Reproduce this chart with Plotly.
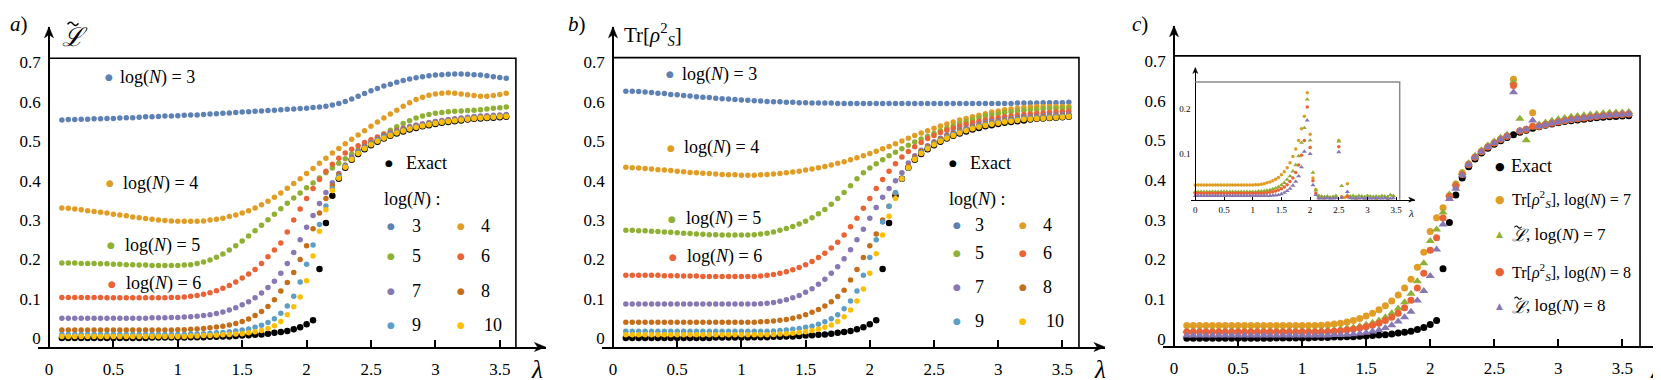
import plotly.graph_objects as go

# lambda grid of the main panels and of the inset
lam = [0.1, 0.15, 0.2, 0.25, 0.3, 0.35, 0.4, 0.45, 0.5, 0.55,
       0.6, 0.65, 0.7, 0.75, 0.8, 0.85, 0.9, 0.95, 1.0, 1.05,
       1.1, 1.15, 1.2, 1.25, 1.3, 1.35, 1.4, 1.45, 1.5, 1.55,
       1.6, 1.65, 1.7, 1.75, 1.8, 1.85, 1.9, 1.95, 2.0, 2.05,
       2.1, 2.15, 2.2, 2.25, 2.3, 2.35, 2.4, 2.45, 2.5, 2.55,
       2.6, 2.65, 2.7, 2.75, 2.8, 2.85, 2.9, 2.95, 3.0, 3.05,
       3.1, 3.15, 3.2, 3.25, 3.3, 3.35, 3.4, 3.45, 3.5, 3.55]
lam_inset = [0.0, 0.05, 0.1, 0.15, 0.2, 0.25, 0.3, 0.35, 0.4, 0.45,
             0.5, 0.55, 0.6, 0.65, 0.7, 0.75, 0.8, 0.85, 0.9, 0.95,
             1.0, 1.05, 1.1, 1.15, 1.2, 1.25, 1.3, 1.35, 1.4, 1.45,
             1.5, 1.55, 1.6, 1.65, 1.7, 1.75, 1.8, 1.85, 1.9, 1.95,
             2.0, 2.05, 2.1, 2.15, 2.2, 2.25, 2.3, 2.35, 2.4, 2.45,
             2.5, 2.55, 2.6, 2.65, 2.7, 2.75, 2.8, 2.85, 2.9, 2.95,
             3.0, 3.05, 3.1, 3.15, 3.2, 3.25, 3.3, 3.35, 3.4, 3.45]

exact = [.001, .001, .001, .001, .001, .001, .001, .001, .001, .001,
         .001, .001, .001, .001, .002, .002, .002, .002, .002, .002,
         .003, .003, .003, .004, .004, .005, .005, .006, .007, .008,
         .009, .010, .012, .014, .016, .019, .023, .028, .036, .046,
         .176, .293, .362, .405, .433, .453, .468, .480, .490, .499,
         .507, .514, .520, .525, .530, .534, .538, .541, .544, .547,
         .549, .551, .553, .555, .557, .558, .559, .560, .561, .562]

# ---- panel a : L tilde
a3 = [.554, .555, .555, .556, .556, .557, .557, .558, .558, .559,
      .560, .560, .561, .562, .562, .563, .564, .564, .565, .566,
      .567, .567, .568, .569, .570, .571, .572, .573, .574, .575,
      .576, .577, .578, .579, .580, .581, .582, .583, .584, .586,
      .587, .589, .592, .596, .601, .607, .614, .621, .628, .634,
      .640, .645, .650, .654, .658, .661, .664, .666, .668, .669,
      .670, .671, .671, .670, .669, .668, .666, .664, .662, .660]
a4 = [.331, .330, .328, .326, .324, .322, .320, .318, .315, .313,
      .311, .308, .306, .304, .302, .300, .299, .298, .297, .297,
      .297, .297, .298, .300, .302, .305, .309, .313, .318, .324,
      .331, .339, .348, .358, .369, .381, .393, .405, .418, .431,
      .444, .457, .470, .482, .494, .505, .516, .527, .538, .549,
      .559, .569, .579, .589, .598, .606, .612, .617, .620, .622,
      .623, .622, .620, .618, .616, .614, .614, .616, .619, .622]
a5 = [.191, .191, .191, .190, .190, .190, .189, .189, .188, .188,
      .187, .187, .186, .186, .185, .185, .185, .185, .185, .186,
      .187, .190, .194, .199, .206, .214, .224, .235, .247, .260,
      .273, .287, .301, .315, .329, .343, .356, .369, .382, .394,
      .407, .420, .432, .444, .456, .467, .478, .489, .499, .509,
      .519, .528, .537, .545, .552, .559, .564, .568, .571, .573,
      .575, .576, .577, .578, .579, .580, .582, .584, .585, .587]
a6 = [.104, .104, .104, .104, .104, .104, .104, .103, .103, .103,
      .103, .103, .103, .103, .103, .103, .103, .104, .104, .105,
      .107, .109, .112, .116, .121, .127, .134, .143, .153, .163,
      .175, .190, .207, .224, .242, .270, .300, .328, .355, .380,
      .403, .424, .442, .457, .470, .480, .489, .497, .504, .511,
      .517, .523, .528, .533, .537, .541, .544, .547, .550, .552,
      .554, .556, .558, .560, .561, .562, .563, .564, .565, .566]
a7 = [.051, .051, .051, .051, .051, .051, .051, .051, .051, .051,
      .051, .051, .051, .051, .052, .052, .052, .053, .053, .054,
      .055, .056, .058, .060, .063, .067, .072, .078, .085, .093,
      .103, .115, .129, .145, .165, .190, .218, .250, .282, .312,
      .342, .370, .395, .418, .440, .460, .475, .487, .497, .506,
      .514, .521, .527, .532, .537, .541, .544, .547, .550, .553,
      .555, .557, .559, .561, .563, .564, .565, .566, .567, .568]
a8 = [.021, .021, .021, .021, .021, .021, .021, .021, .021, .021,
      .021, .021, .021, .021, .021, .021, .021, .021, .022, .022,
      .023, .024, .025, .027, .029, .031, .034, .038, .043, .049,
      .058, .068, .081, .098, .120, .142, .167, .200, .235, .278,
      .318, .355, .388, .415, .437, .457, .472, .484, .494, .503,
      .511, .518, .524, .529, .534, .538, .541, .544, .547, .550,
      .552, .554, .556, .558, .560, .561, .562, .563, .564, .565]
a9 = [.010, .010, .010, .010, .010, .010, .010, .010, .010, .010,
      .010, .010, .010, .010, .010, .010, .010, .010, .010, .010,
      .011, .011, .012, .013, .014, .015, .017, .019, .021, .024,
      .028, .033, .040, .050, .064, .082, .107, .143, .188, .237,
      .289, .336, .380, .410, .436, .456, .471, .483, .493, .502,
      .510, .517, .523, .528, .533, .537, .540, .543, .546, .549,
      .551, .553, .555, .557, .559, .560, .561, .562, .563, .564]
a10 = [.005, .005, .005, .005, .005, .005, .005, .005, .005, .005,
       .005, .005, .005, .005, .005, .005, .005, .005, .005, .005,
       .006, .006, .007, .007, .008, .009, .010, .011, .012, .014,
       .017, .020, .025, .032, .043, .060, .080, .105, .146, .209,
       .272, .326, .375, .406, .434, .454, .469, .481, .491, .500,
       .508, .515, .521, .526, .531, .535, .539, .542, .545, .548,
       .550, .552, .554, .556, .558, .559, .560, .561, .562, .563]

# ---- panel b : Tr[rho_S^2]
b3 = [.627, .627, .626, .625, .624, .622, .621, .619, .618, .616,
      .615, .613, .612, .611, .609, .608, .607, .606, .605, .604,
      .603, .602, .601, .600, .600, .599, .599, .598, .598, .597,
      .597, .597, .597, .596, .596, .596, .596, .596, .596, .596,
      .596, .596, .596, .596, .596, .596, .596, .596, .596, .596,
      .596, .596, .596, .596, .596, .596, .596, .596, .596, .596,
      .596, .597, .597, .597, .597, .598, .598, .598, .598, .599]
b4 = [.434, .433, .432, .431, .430, .428, .427, .426, .424, .423,
      .421, .420, .419, .418, .417, .416, .415, .415, .414, .414,
      .414, .415, .416, .417, .418, .420, .422, .424, .427, .430,
      .433, .436, .440, .444, .448, .453, .458, .463, .469, .475,
      .481, .487, .494, .501, .508, .515, .521, .527, .533, .539,
      .544, .549, .554, .558, .562, .566, .570, .574, .577, .580,
      .582, .584, .586, .587, .588, .588, .588, .588, .588, .588]
b5 = [.274, .274, .273, .273, .272, .271, .270, .269, .268, .267,
      .266, .265, .264, .263, .263, .262, .262, .262, .262, .262,
      .263, .265, .267, .270, .274, .279, .284, .290, .297, .306,
      .316, .327, .340, .355, .370, .387, .405, .420, .432, .443,
      .453, .463, .472, .481, .490, .498, .506, .513, .520, .527,
      .533, .539, .545, .550, .555, .560, .564, .567, .570, .573,
      .575, .577, .579, .580, .581, .582, .583, .583, .584, .584]
b6 = [.160, .160, .160, .160, .160, .160, .159, .159, .159, .158,
      .158, .158, .157, .157, .157, .157, .157, .157, .157, .157,
      .157, .158, .160, .162, .165, .169, .174, .180, .187, .195,
      .205, .216, .229, .244, .262, .283, .305, .330, .355, .380,
      .403, .424, .443, .460, .474, .486, .497, .507, .515, .522,
      .528, .533, .538, .543, .547, .551, .554, .557, .560, .562,
      .564, .566, .568, .569, .571, .572, .573, .574, .575, .576]
b7 = [.087, .087, .087, .087, .087, .087, .087, .087, .087, .087,
      .087, .087, .087, .087, .087, .087, .087, .087, .087, .087,
      .087, .088, .089, .091, .094, .098, .103, .109, .117, .126,
      .137, .150, .165, .182, .202, .225, .250, .277, .305, .332,
      .358, .380, .400, .420, .445, .463, .477, .489, .499, .508,
      .516, .523, .529, .534, .539, .543, .547, .550, .553, .556,
      .558, .560, .562, .563, .564, .565, .566, .567, .568, .569]
b8 = [.041, .041, .041, .041, .041, .041, .041, .041, .041, .041,
      .041, .041, .041, .041, .041, .041, .041, .041, .041, .041,
      .041, .042, .043, .044, .046, .048, .051, .055, .060, .066,
      .073, .082, .093, .106, .122, .148, .175, .205, .235, .265,
      .300, .335, .368, .405, .436, .459, .474, .486, .496, .505,
      .513, .520, .526, .531, .536, .540, .544, .547, .550, .553,
      .555, .557, .559, .560, .561, .562, .563, .564, .565, .566]
b9 = [.018, .018, .018, .018, .018, .018, .018, .018, .018, .018,
      .018, .018, .018, .018, .018, .018, .018, .018, .018, .018,
      .018, .018, .018, .019, .020, .021, .023, .025, .028, .031,
      .036, .042, .050, .060, .075, .095, .120, .160, .205, .250,
      .295, .335, .370, .405, .432, .455, .471, .483, .493, .502,
      .510, .517, .523, .529, .534, .538, .542, .545, .548, .551,
      .553, .555, .557, .558, .559, .560, .561, .562, .563, .564]
b10 = [.009, .009, .009, .009, .009, .009, .009, .009, .009, .009,
       .009, .009, .009, .009, .009, .009, .009, .009, .009, .009,
       .009, .009, .009, .010, .011, .012, .013, .015, .017, .020,
       .023, .028, .034, .043, .055, .072, .095, .125, .165, .215,
       .262, .310, .355, .405, .433, .454, .469, .481, .491, .500,
       .508, .515, .521, .527, .532, .536, .540, .543, .546, .549,
       .551, .553, .555, .556, .557, .558, .559, .560, .561, .562]

# ---- panel c : comparison at log(N) = 7, 8
c_tr7 = [.033, .033, .033, .033, .033, .033, .033, .033, .033, .033,
         .033, .033, .033, .033, .033, .033, .033, .033, .033, .033,
         .033, .034, .035, .037, .039, .042, .046, .051, .057, .064,
         .073, .083, .095, .110, .128, .150, .180, .218, .270, .305,
         .330, .360, .390, .418, .440, .458, .472, .484, .494, .503,
         .511, .654, .524, .528, .569, .536, .540, .544, .547, .550,
         .553, .555, .557, .559, .561, .563, .564, .565, .566, .567]
c_l7 = [.020, .020, .020, .020, .020, .020, .020, .020, .020, .020,
        .020, .020, .020, .020, .020, .020, .020, .020, .020, .020,
        .020, .021, .021, .022, .024, .026, .028, .031, .035, .040,
        .046, .054, .064, .076, .092, .113, .145, .190, .246, .275,
        .318, .363, .390, .418, .442, .461, .475, .487, .497, .506,
        .514, .646, .554, .500, .532, .540, .545, .549, .553, .556,
        .559, .561, .563, .565, .566, .568, .569, .570, .570, .571]
c_tr8 = [.017, .017, .017, .017, .017, .017, .017, .017, .017, .017,
         .017, .017, .017, .017, .017, .017, .017, .017, .017, .017,
         .017, .017, .018, .019, .020, .022, .024, .027, .030, .034,
         .039, .046, .054, .064, .078, .097, .128, .165, .223, .254,
         .304, .358, .385, .414, .438, .457, .471, .483, .493, .502,
         .510, .638, .523, .527, .535, .535, .539, .543, .546, .549,
         .552, .554, .556, .558, .560, .562, .563, .564, .565, .566]
c_l8 = [.008, .008, .008, .008, .008, .008, .008, .008, .008, .008,
        .008, .008, .008, .008, .008, .008, .008, .008, .008, .008,
        .008, .008, .008, .009, .009, .010, .011, .013, .015, .018,
        .022, .027, .034, .043, .054, .068, .096, .120, .158, .225,
        .288, .352, .378, .412, .438, .457, .471, .483, .493, .502,
        .510, .621, .524, .528, .550, .535, .539, .543, .546, .549,
        .552, .554, .556, .558, .560, .562, .563, .564, .565, .566]

# ---- inset of panel c : deviation from the exact value
i_tr7 = [.030, .030, .030, .030, .030, .030, .030, .030, .030, .030,
         .030, .030, .030, .030, .030, .030, .030, .030, .030, .030,
         .030, .031, .031, .032, .033, .035, .037, .040, .043, .047,
         .053, .060, .069, .080, .094, .111, .130, .156, .184, .237,
         .144, .046, .020, .006, .003, .001, .002, .001, .003, .002,
         .130, .004, .002, .033, .003, -.003, -.002, -.003, -.003, -.002,
         -.003, -.003, -.003, -.002, -.003, -.003, -.003, -.002, -.003, -.003]
i_l7 = [.015, .015, .015, .015, .015, .015, .015, .015, .015, .015,
        .015, .015, .015, .015, .015, .015, .015, .015, .015, .015,
        .015, .015, .016, .016, .017, .018, .019, .021, .023, .026,
        .030, .035, .042, .050, .061, .075, .095, .125, .158, .222,
        .130, .058, .018, .006, .005, .004, .005, .003, .004, .006,
        .128, .028, -.018, .007, .005, .006, .004, .006, .005, .004,
        .006, .005, .004, .005, .004, .006, .005, .004, .008, .006]
i_tr8 = [.012, .012, .012, .012, .012, .012, .012, .012, .012, .012,
         .012, .012, .012, .012, .012, .012, .012, .012, .012, .012,
         .012, .012, .012, .012, .012, .013, .014, .015, .017, .019,
         .022, .026, .031, .038, .046, .058, .075, .097, .130, .205,
         .114, .040, .012, .001, -.003, -.003, -.003, -.003, -.003, -.003,
         .116, .002, -.003, .004, -.003, -.003, -.003, -.003, -.003, -.003,
         -.003, -.003, -.003, -.003, -.003, -.003, -.003, -.003, -.003, -.003]
i_l8 = [.006, .006, .006, .006, .006, .006, .006, .006, .006, .006,
        .006, .006, .006, .006, .006, .006, .006, .006, .006, .006,
        .006, .006, .006, .006, .006, .006, .006, .007, .007, .008,
        .010, .013, .017, .022, .029, .038, .050, .070, .105, .175,
        .100, .030, .008, .001, .000, .000, .001, .000, .000, .001,
        .104, .002, -.004, .015, .001, .000, .001, .000, .001, .000,
        .001, .000, .000, .001, .000, .000, .001, .000, .000, .001]

xticks = [0, 0.5, 1, 1.5, 2, 2.5, 3, 3.5]
xticktext = ["0", "0.5", "1", "1.5", "2", "2.5", "3", "3.5"]
yticks = [0, 0.1, 0.2, 0.3, 0.4, 0.5, 0.6, 0.7]
yticktext = ["0", "0.1", "0.2", "0.3", "0.4", "0.5", "0.6", "0.7"]
inset_yticks = [0.1, 0.2]

BLUE, ORANGE, GREEN, RED = "#5E81B5", "#E19C24", "#8FB032", "#EB6235"
PURPLE, BROWN, LBLUE, YELLOW = "#8778B3", "#C56E1A", "#5D9EC7", "#FFBF00"
FONT = "Liberation Serif, Times New Roman, DejaVu Serif, serif"
W, H = 1661, 380

fig = go.Figure()


def P(x, y):
    # pixel position -> paper coordinates
    return x / W, 1 - y / H


def dots(x, y, color, size, n, symbol="circle"):
    fig.add_trace(go.Scatter(
        x=x, y=y, mode="markers", xaxis="x" + n, yaxis="y" + n,
        marker=dict(color=color, size=size, symbol=symbol, line=dict(width=0)),
        showlegend=False, hoverinfo="skip", cliponaxis=False))


layout_axes = {}
shapes = []
annots = []


def arrowhead(tipx, tipy, dx, dy, length, half):
    # swept arrow head, pointing along (dx, dy), in pixels
    px, py = -dy, dx
    pts = [(tipx, tipy),
           (tipx - dx * length + px * half, tipy - dy * length + py * half),
           (tipx - dx * length * 0.72, tipy - dy * length * 0.72),
           (tipx - dx * length - px * half, tipy - dy * length - py * half)]
    path = "M " + " L ".join("%.5f,%.5f" % P(a, b) for a, b in pts) + " Z"
    shapes.append(dict(type="path", xref="paper", yref="paper", path=path,
                       fillcolor="black", line=dict(color="black", width=0.5)))


def panel(n, x0, x1, lam0, sx, ybot, ytop, v0, sy, frame_r, frame_t,
          tfont=17, lw=1.6, alen=11, ahalf=4.5, fcolor="black", fw=1.6,
          ticklen=7, ytv=yticks, ytt=yticktext, xstand=6, ystand=4):
    xr = [(x0 - lam0) / sx, (x1 - lam0) / sx]
    yr = [(v0 - ybot) / sy, (v0 - ytop) / sy]
    layout_axes["xaxis" + n] = dict(
        domain=[x0 / W, x1 / W], range=xr, anchor="y" + n, showgrid=False,
        zeroline=False, showline=True, linecolor="black", linewidth=lw,
        ticks="inside", ticklen=ticklen, tickwidth=lw, tickcolor="black",
        tickvals=xticks, ticktext=xticktext, ticklabelstandoff=xstand,
        tickfont=dict(family=FONT, size=tfont, color="black"))
    layout_axes["yaxis" + n] = dict(
        domain=[1 - ybot / H, 1 - ytop / H], range=yr, anchor="free",
        position=lam0 / W, showgrid=False, zeroline=False, showline=True,
        linecolor="black", linewidth=lw, ticks="", tickvals=ytv,
        ticktext=ytt, ticklabelstandoff=ystand,
        tickfont=dict(family=FONT, size=tfont, color="black"))
    shapes.append(dict(type="path", xref="x" + n, yref="y" + n,
                       path=f"M 0,{frame_t} L {frame_r},{frame_t} L {frame_r},{yr[0]}",
                       line=dict(color=fcolor, width=fw)))
    arrowhead(x1, ybot, 1, 0, alen, ahalf)
    arrowhead(lam0, ytop, 0, -1, alen, ahalf)


def txt(x, y, s, size=17, color="black", xanchor="left", family=FONT):
    px, py = P(x, y)
    annots.append(dict(x=px, y=py, xref="paper", yref="paper",
                       text=s, showarrow=False, xanchor=xanchor, yanchor="middle",
                       font=dict(family=family, size=size, color=color)))


def glyph(x, y, color, size=9, g="●"):
    px, py = P(x, y)
    annots.append(dict(x=px, y=py, xref="paper", yref="paper",
                       text=g, showarrow=False, xanchor="center", yanchor="middle",
                       font=dict(family="DejaVu Sans", size=size, color=color)))


def ltilde(x, y, size):
    # script L with a tilde stroke above it
    txt(x, y, "<i>ℒ</i>", size, family="DejaVu Serif, serif")
    cx, cy = x + 0.5 * size, y - 0.5 * size
    w, a = 0.42 * size, 0.07 * size
    x0 = cx - w / 2
    p0, p1, p2, p3 = P(x0, cy + a * 0.3), P(x0 + w / 4, cy - 2 * a), P(x0 + w / 2, cy), P(x0 + w, cy - a * 0.3)
    path = ("M %.5f,%.5f Q %.5f,%.5f %.5f,%.5f T %.5f,%.5f"
            % (p0 + p1 + p2 + p3))
    shapes.append(dict(type="path", xref="paper", yref="paper", path=path,
                       line=dict(color="black", width=max(1.0, size / 16))))


# axes / frames
panel("", 30.4, 537.5, 41.0, 128.8, 341.7, 19, 333.0, 397.3, 3.625, 0.7105)
panel("2", 593.6, 1097, 605.0, 128.4, 341.7, 19, 333.0, 397.3, 3.629, 0.7123)
panel("3", 1155, 1657, 1166.0, 128.1, 340.7, 18, 333.3, 400.0, 3.638, 0.7125)
panel("4", 1182.7, 1406.7, 1187.3, 57.4, 193.3, 60, 192.0, 450.0, 3.561, 0.261,
      tfont=9, lw=1.0, alen=6, ahalf=2.5, fcolor="#8a8a8a", fw=1.5, ticklen=3,
      ytv=inset_yticks, ytt=["0.1", "0.2"], xstand=1, ystand=3)

# panel a
dots(lam, exact, "black", 6.5, "")
for arr, col in [(a3, BLUE), (a4, ORANGE), (a5, GREEN), (a6, RED),
                 (a7, PURPLE), (a8, BROWN), (a9, LBLUE), (a10, YELLOW)]:
    dots(lam, arr, col, 5.5, "")

# panel b
dots(lam, exact, "black", 6.5, "2")
for arr, col in [(b3, BLUE), (b4, ORANGE), (b5, GREEN), (b6, RED),
                 (b7, PURPLE), (b8, BROWN), (b9, LBLUE), (b10, YELLOW)]:
    dots(lam, arr, col, 5.5, "2")

# panel c
dots(lam, exact, "black", 7, "3")
dots(lam, c_tr7, ORANGE, 7, "3")
dots(lam, c_l7, GREEN, 8, "3", "triangle-up")
dots(lam, c_tr8, RED, 7, "3")
dots(lam, c_l8, PURPLE, 8, "3", "triangle-up")

# inset
dots(lam_inset, i_tr7, ORANGE, 3.5, "4")
dots(lam_inset, i_l7, GREEN, 4.5, "4", "triangle-up")
dots(lam_inset, i_tr8, RED, 3.5, "4")
dots(lam_inset, i_l8, PURPLE, 4.5, "4", "triangle-up")

# panel labels and axis titles
txt(0, 16, "<i>a</i>)", 21)
txt(558, 16, "<i>b</i>)", 21)
txt(1122, 16, "<i>c</i>)", 21)
ltilde(52, 29, 26)
txt(614, 27, "Tr[<i>ρ</i><sup>2</sup><sub><i>S</i></sub>]", 21)
for xl in (529, 1092, 1648):
    txt(xl, 364, "<i>λ</i>", 25, xanchor="center")
txt(1403, 207, "<i>λ</i>", 11, xanchor="center")

# in-plot labels, panels a and b
lab_a = [(101, 70, 110, BLUE, "3"), (102, 176.7, 113, ORANGE, "4"),
         (103, 239, 115, GREEN, "5"), (103.6, 277.7, 116, RED, "6")]
lab_b = [(662, 66.7, 672, BLUE, "3"), (663, 140.7, 674, ORANGE, "4"),
         (664, 212.3, 676, GREEN, "5"), (665, 250.7, 677, RED, "6")]
for dx, dy, tx, col, k in lab_a + lab_b:
    glyph(dx, dy, col)
    txt(tx, dy, "log(<i>N</i>) = " + k, 18)

# grid legends of panels a and b
grid_cols = [BLUE, ORANGE, GREEN, RED, PURPLE, BROWN, LBLUE, YELLOW]
grid_lab = ["3", "4", "5", "6", "7", "8", "9", "10"]
for (ex, ey, tx, hx, hy, c1d, c1t, c2d, c2t, rows) in [
        (381.4, 156.7, 396, 374, 193.3, 383.3, 401.5, 452.7, 470.5, [220, 250, 285, 320]),
        (945.4, 156.7, 959.6, 939, 193.3, 949, 965, 1015, 1033, [218.3, 247.3, 281, 315])]:
    glyph(ex, ey, "black")
    txt(tx, ey, "Exact", 18)
    txt(hx, hy, "log(<i>N</i>) :", 18)
    for k in range(8):
        r = rows[k // 2]
        if k % 2 == 0:
            glyph(c1d, r, grid_cols[k])
            txt(c1t, r, grid_lab[k], 18)
        else:
            glyph(c2d, r, grid_cols[k])
            txt(c2t + (3 if grid_lab[k] == "10" else 0), r, grid_lab[k], 18)

# legend of panel c
glyph(1491.8, 159.3, "black", 11)
txt(1500.7, 159.3, "Exact", 18)
glyph(1491.8, 192.7, ORANGE, 11)
txt(1501.8, 192.7, "Tr[<i>ρ</i><sup>2</sup><sub><i>S</i></sub>], log(<i>N</i>) = 7", 16)
glyph(1491, 228.3, GREEN, 9, "▲")
ltilde(1501.5, 229.3, 17)
txt(1516, 228.3, ", log(<i>N</i>) = 7", 17)
glyph(1491.8, 265.7, RED, 11)
txt(1501.8, 265.7, "Tr[<i>ρ</i><sup>2</sup><sub><i>S</i></sub>], log(<i>N</i>) = 8", 16)
glyph(1491, 300, PURPLE, 9, "▲")
ltilde(1501.5, 301, 17)
txt(1516, 300, ", log(<i>N</i>) = 8", 17)

fig.update_layout(
    width=W, height=H, margin=dict(l=0, r=0, t=0, b=0),
    paper_bgcolor="white", plot_bgcolor="rgba(0,0,0,0)",
    shapes=shapes, annotations=annots, **layout_axes)

fig.write_html("out.html")
